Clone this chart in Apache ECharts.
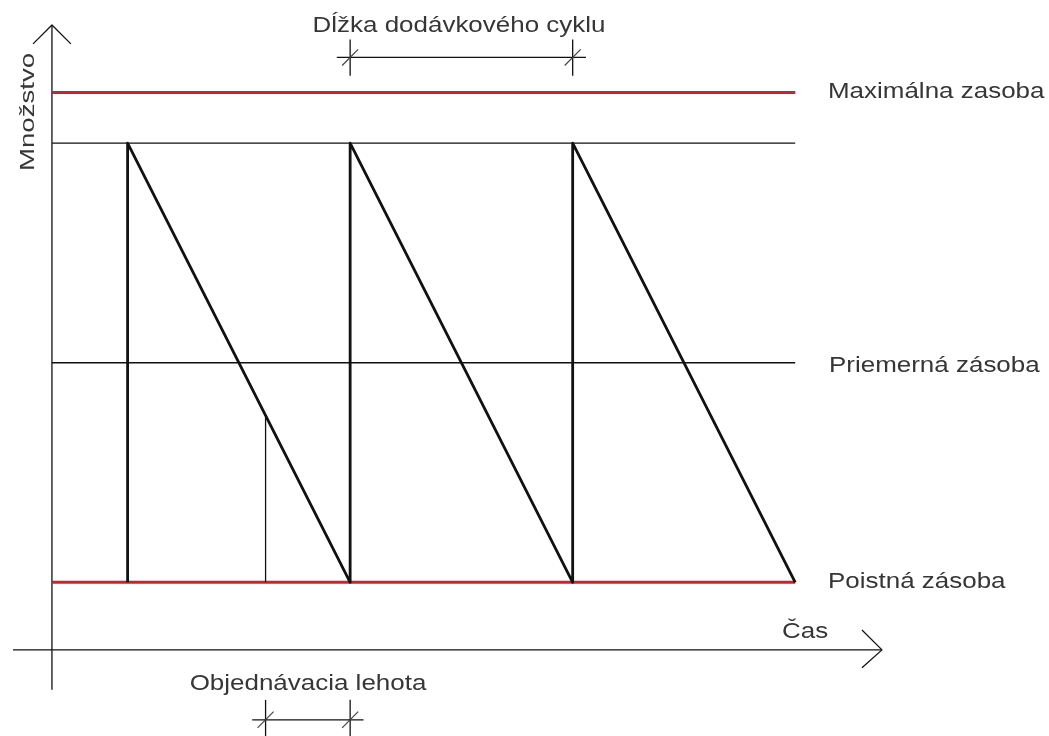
<!DOCTYPE html>
<html>
<head>
<meta charset="utf-8">
<script src="https://cdn.jsdelivr.net/npm/echarts@6/dist/echarts.min.js"></script>
<style>
  html, body { margin: 0; padding: 0; background: #fff; }
  #chart { width: 1049px; height: 736px; }
</style>
</head>
<body>
<div id="chart"></div>
<script>
// stock levels (quantity units)
var maxStock = 165;
var topStock = 150;
var avgStock = 85;
var safetyStock = 20;
// deliveries along the time axis, and end of the last cycle
var deliveries = [3.4, 13.4, 23.4];
var cycleEnd = 33.4;
// ordering point (time) and stock level there
var orderTime = 9.6;
var orderLevel = 69;
// axis extents
var xRange = [-1.75, 37.3];
var yRange = [-25.5, 185];
var xAxisEnd = -11.8; // bottom end of the vertical axis line
// labels
var levelLabels = ['Maximálna zasoba', 'Priemerná zásoba', 'Poistná zásoba'];
var axisTitles = ['Čas', 'Množstvo'];
var dimLabels = ['Dĺžka dodávkového cyklu', 'Objednávacia lehota'];

var RED = '#c4262c';
var BLACK = '#111';

function seg(name, pts, color, width) {
  return {
    name: name,
    type: 'line',
    data: pts,
    symbol: 'none',
    clip: false,
    silent: true,
    lineStyle: { color: color, width: width, join: 'round', cap: 'butt' }
  };
}

// sawtooth: vertical refill then linear draw down
var saw = [];
deliveries.forEach(function (t, i) {
  saw.push([t, safetyStock]);
  saw.push([t, topStock]);
  var next = i < deliveries.length - 1 ? deliveries[i + 1] : cycleEnd;
  saw.push([next, safetyStock]);
});

// dimension line with ticks and slashes
function dimension(name, x0, x1, y, tickLo, tickHi) {
  var over = 0.6, sx = 0.36, sy = 2.4;
  return [
    seg(name, [[x0 - over, y], [x1 + over, y]], BLACK, 1.3),
    seg(name + 'a', [[x0, tickLo], [x0, tickHi]], BLACK, 1.3),
    seg(name + 'b', [[x1, tickLo], [x1, tickHi]], BLACK, 1.3),
    seg(name + 'c', [[x0 - sx, y - sy], [x0 + sx, y + sy]], '#444', 1.2),
    seg(name + 'd', [[x1 - sx, y - sy], [x1 + sx, y + sy]], '#444', 1.2)
  ];
}

var series = [
  // axes with open arrows
  seg('osX', [[xRange[0], 0], [xRange[1], 0]], BLACK, 1.3),
  seg('osXarrow', [[xRange[1] - 0.9, 5.9], [xRange[1], 0], [xRange[1] - 0.9, -5.3]], BLACK, 1.3),
  seg('osY', [[0, xAxisEnd], [0, yRange[1]]], BLACK, 1.3),
  seg('osYarrow', [[-0.85, yRange[1] - 5.6], [0, yRange[1]], [0.85, yRange[1] - 5.6]], BLACK, 1.3),
  // stock levels
  seg(levelLabels[0], [[0, maxStock], [cycleEnd, maxStock]], RED, 3),
  seg('top', [[0, topStock], [cycleEnd, topStock]], BLACK, 1.3),
  seg(levelLabels[1], [[0, avgStock], [cycleEnd, avgStock]], BLACK, 1.3),
  seg(levelLabels[2], [[0, safetyStock], [cycleEnd, safetyStock]], RED, 3),
  // order point
  seg('order', [[orderTime, safetyStock], [orderTime, orderLevel]], BLACK, 1.3),
  // stock curve
  seg('stock', saw, BLACK, 2.8)
]
  .concat(dimension('cycle', deliveries[1], deliveries[2], 175.4, 170, 180.7))
  .concat(dimension('lead', orderTime, deliveries[1], -20.7, -14.8, -25.5));

var FONT = '22px "Liberation Sans", Arial, sans-serif';
var TXT = '#363636';
function label(text, x, y, align, opts) {
  var g = {
    type: 'text',
    x: x,
    y: y,
    scaleX: 1.18,
    silent: true,
    style: { text: text, font: FONT, fill: TXT, align: align, verticalAlign: 'middle' }
  };
  if (opts) { for (var k in opts) g[k] = opts[k]; }
  return g;
}

var chart = echarts.init(document.getElementById('chart'));
chart.setOption({
  animation: false,
  backgroundColor: '#fff',
  grid: { left: 13, right: 1049 - 882, top: 25, bottom: 0 },
  xAxis: { type: 'value', min: xRange[0], max: xRange[1], show: false },
  yAxis: { type: 'value', min: yRange[0], max: yRange[1], show: false },
  series: series,
  graphic: [
    label(levelLabels[0], 828, 92, 'left'),
    label(levelLabels[1], 829, 366, 'left'),
    label(levelLabels[2], 828, 582, 'left'),
    label(axisTitles[0], 782, 632, 'left'),
    label(axisTitles[1], 28, 112, 'center', { rotation: Math.PI / 2, scaleX: 1.38, style: { text: axisTitles[1], font: '20px "Liberation Sans", Arial, sans-serif', fill: TXT, align: 'center', verticalAlign: 'middle' } }),
    label(dimLabels[0], 459, 26, 'center'),
    label(dimLabels[1], 308, 684, 'center')
  ]
});
</script>
</body>
</html>
